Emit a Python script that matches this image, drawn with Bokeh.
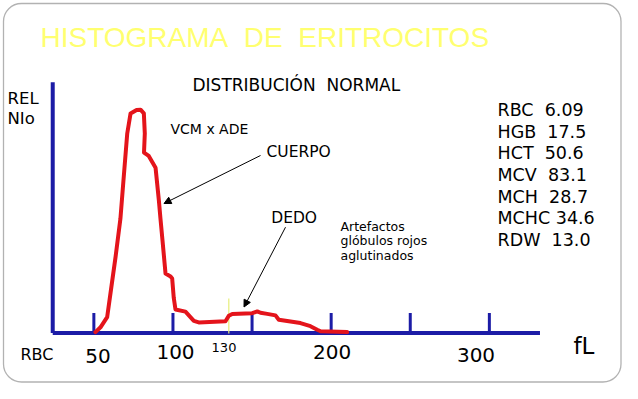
from bokeh.plotting import figure
from bokeh.models import Range1d, Arrow, NormalHead, BoxAnnotation, ColumnDataSource
from bokeh.core.properties import value
from bokeh.embed import file_html
from bokeh.resources import INLINE

# ---------------- data ----------------
# RBC volume histogram: x in fL, y in relative number (peak ~100)
curve_fl = [51.0, 54.2, 58.4, 60.5, 63.7, 66.8, 68.7, 71.1, 73.2, 77.0, 79.5, 81.6,
            82.2, 81.7, 84.7, 89.0, 91.1, 92.1, 93.4, 95.3, 98.5, 99.5, 100.5, 101.6,
            107.9, 113.2, 116.3, 133.2, 135.3, 137.5, 150.1, 153.3, 155.3, 159.6,
            164.8, 166.9, 180.6, 186.9, 191.2, 193.3, 210.1]
curve_rel = [0.4, 2.6, 7.2, 18.0, 34.5, 52.0, 69.3, 90.7, 99.8, 101.4, 101.5, 99.8,
             90.7, 82.0, 80.5, 75.1, 60.2, 52.0, 42.0, 27.0, 25.7, 24.8, 16.0, 10.7,
             9.7, 5.5, 4.8, 5.3, 7.8, 8.6, 9.0, 9.8, 9.2, 8.7,
             8.0, 6.0, 4.5, 3.1, 1.5, 0.8, 0.4]

x_axis_start = 24.0      # fL where the drawn axis begins
x_axis_end = 332.0       # fL where the drawn axis ends
y_axis_top = 114.0       # top of the vertical axis (relative number)
tick_values = [50, 100, 150, 200, 250, 300]
tick_label_text = ["50", "100", "200", "300"]
marker_fl = 135.3        # thin yellow marker, labelled "130"
marker_label = "130"

stat_names = ["RBC", "HGB", "HCT", "MCV", "MCH", "MCHC", "RDW"]
stat_values = ["6.09", "17.5", "50.6", "83.1", "28.7", "34.6", "13.0"]

# ---------------- layout helpers (reference pixel -> data) ----------------
X0_REF, PX_PER_FL = 14.26, 1.582
Y0_REF, PX_PER_Y = 332.5, 2.2
W, H = 622, 383
NB = "\u00a0"
BASE_FIX = 0.35  # empirical baseline correction (fraction of font size)


def fx(px):
    return (px - X0_REF) / PX_PER_FL


def fy(py):
    return (Y0_REF - py) / PX_PER_Y


BLUE = "#1c1ca6"
RED = "#e4141b"

p = figure(width=W, height=H,
           x_range=Range1d(fx(0), fx(W)),
           y_range=Range1d(fy(H), fy(0)),
           output_backend="svg", toolbar_location=None,
           x_axis_location=None, y_axis_location=None,
           min_border=0, outline_line_color=None,
           background_fill_color="white", border_fill_color="white")
for g in p.grid:
    g.visible = False

# rounded frame
p.add_layout(BoxAnnotation(left=fx(3), right=fx(W - 1.5), top=fy(3), bottom=fy(H - 1.5),
                           fill_color=None, fill_alpha=0, line_color="black",
                           line_width=1.3, border_radius=18))

# axes
p.line([x_axis_start, x_axis_end], [0, 0], line_color=BLUE, line_width=4)
p.line([x_axis_start, x_axis_start], [0, y_axis_top], line_color=BLUE, line_width=4)
tick_h = 20 / PX_PER_Y
p.segment(x0=tick_values, y0=[0] * len(tick_values), x1=tick_values,
          y1=[tick_h] * len(tick_values), line_color=BLUE, line_width=3)

# yellow marker
p.segment(x0=[marker_fl], y0=[fy(333)], x1=[marker_fl], y1=[fy(298)],
          line_color="#e6ee7a", line_width=1.2)

# curve
p.line(curve_fl, curve_rel, line_color=RED, line_width=4, line_join="round", line_cap="round")

# arrows
p.add_layout(Arrow(end=NormalHead(size=7, fill_color="black", line_color="black", line_width=1),
                   x_start=fx(260), y_start=fy(155), x_end=fx(163.5), y_end=fy(203),
                   line_color="black", line_width=1))
p.add_layout(Arrow(end=NormalHead(size=7, fill_color="black", line_color="black", line_width=1),
                   x_start=fx(285), y_start=fy(226.7), x_end=fx(243.5), y_end=fy(306.5),
                   line_color="black", line_width=1))

FONT = value("DejaVu Sans")


def txt(x, y, s, size, color="black", font=FONT, align="left"):
    yy = y - BASE_FIX * size
    p.text(x=[fx(x)], y=[fy(yy)], text=[s], text_font=font, text_font_size=f"{size}px",
           text_color=color, text_align=align, text_baseline="alphabetic")


# title
txt(40, 47, "HISTOGRAMA" + NB + NB + "DE" + NB + NB + "ERITROCITOS", 28,
    color="#ffff70", font=value("Liberation Sans"))
txt(192, 90, "DISTRIBUCIÓN" + NB + NB + "NORMAL", 17)
txt(7, 103.3, "REL", 16.5)
txt(7, 123.3, "NIo", 16.5)
txt(170, 133, "VCM x ADE", 14)
txt(266, 156.5, "CUERPO", 15.5)
txt(270.7, 223.3, "DEDO", 15.5)
txt(340, 230, "Artefactos", 12.5)
txt(340, 244.5, "glóbulos rojos", 12.5)
txt(340, 259, "aglutinados", 12.5)

# stats
STAT_SIZE = 17.5
stat_lines = [n + (NB if len(n) > 3 else NB + NB) + v for n, v in zip(stat_names, stat_values)]
src = ColumnDataSource(dict(x=[fx(497)] * len(stat_lines),
                            y=[fy(115.5 + i * 21.67 - BASE_FIX * STAT_SIZE)
                               for i in range(len(stat_lines))],
                            t=stat_lines))
p.text(x="x", y="y", text="t", source=src, text_font=FONT, text_font_size=f"{STAT_SIZE}px",
       text_color="black", text_align="left", text_baseline="alphabetic")

# bottom labels
txt(20, 360, "RBC", 16)
label_cx = [97.5, 175, 331.6, 475.5]
label_base = [362, 358, 358.3, 361.7]
for s, cx, b in zip(tick_label_text, label_cx, label_base):
    txt(cx, b, s, 20, align="center")
txt(223.5, 352, marker_label, 13, align="center")
txt(573, 353.3, "fL", 23)

open("out.html", "w").write(file_html(p, INLINE))
